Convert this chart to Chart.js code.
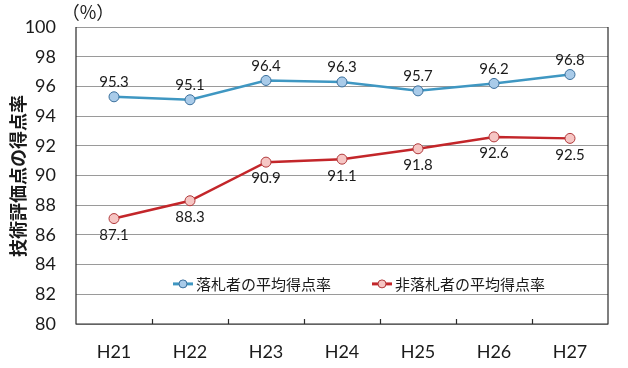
<!DOCTYPE html>
<html>
<head>
<meta charset="utf-8">
<script src="https://cdn.jsdelivr.net/npm/chart.js@4/dist/chart.umd.min.js"></script>
<style>
  html, body { margin: 0; padding: 0; background: #fff; }
  #wrap { width: 628px; height: 368px; position: relative; }
</style>
</head>
<body>
<div id="wrap"><canvas id="c" width="628" height="368"></canvas></div>
<script>
// data
const years = ["H21", "H22", "H23", "H24", "H25", "H26", "H27"];
const winnerRate = [95.3, 95.1, 96.4, 96.3, 95.7, 96.2, 96.8];
const loserRate = [87.1, 88.3, 90.9, 91.1, 91.8, 92.6, 92.5];
const seriesNames = ["落札者の平均得点率", "非落札者の平均得点率"];
const yTitle = "技術評価点の得点率";
const unitLabel = "（%）";

const JP = '"Noto Sans CJK JP", "Noto Sans", sans-serif';
const NUM = 'Lato, "Noto Sans", sans-serif';

const colors = {
  blueLine: "#3f97c2",
  blueFill: "#a9cbe9",
  blueEdge: "#3a6f9c",
  redLine: "#c3262a",
  redFill: "#f6c6c4",
  redEdge: "#b0393b",
  grid: "#9a9a9a",
  frame: "#2b2b2b",
  text: "#1a1a1a",
};

// labels above blue, below red
const dataLabels = {
  id: "dataLabels",
  afterDatasetsDraw(chart) {
    const { ctx } = chart;
    ctx.save();
    ctx.font = `15px ${NUM}`;
    ctx.fillStyle = colors.text;
    ctx.textAlign = "center";
    chart.data.datasets.forEach((ds, i) => {
      const meta = chart.getDatasetMeta(i);
      meta.data.forEach((pt, j) => {
        const v = ds.data[j].toFixed(1);
        if (i === 0) {
          ctx.textBaseline = "bottom";
          ctx.fillText(v, pt.x, pt.y - 7);
        } else {
          ctx.textBaseline = "top";
          ctx.fillText(v, pt.x, pt.y + 9);
        }
      });
    });
    ctx.restore();
  },
};

// frame, inner tick marks, legend, titles
const decorations = {
  id: "decorations",
  afterDraw(chart) {
    const { ctx, chartArea: a, scales } = chart;
    ctx.save();
    // frame
    ctx.strokeStyle = colors.frame;
    ctx.lineWidth = 1.2;
    ctx.beginPath();
    ctx.moveTo(a.left, a.top);
    ctx.lineTo(a.left, a.bottom);
    ctx.lineTo(a.right, a.bottom);
    ctx.lineTo(a.right, a.top);
    ctx.stroke();
    // ticks between categories
    const step = (a.right - a.left) / years.length;
    ctx.beginPath();
    for (let i = 1; i < years.length; i++) {
      const x = Math.round(a.left + step * i) + 0.5;
      ctx.moveTo(x, a.bottom);
      ctx.lineTo(x, a.bottom - 5);
    }
    ctx.stroke();

    // legend
    const ly = scales.y.getPixelForValue(82.7);
    const items = [
      { x: 173, line: colors.blueLine, fill: colors.blueFill, edge: colors.blueEdge, text: seriesNames[0] },
      { x: 372, line: colors.redLine, fill: colors.redFill, edge: colors.redEdge, text: seriesNames[1] },
    ];
    items.forEach((it) => {
      ctx.strokeStyle = it.line;
      ctx.lineWidth = 3;
      ctx.beginPath();
      ctx.moveTo(it.x, ly);
      ctx.lineTo(it.x + 20, ly);
      ctx.stroke();
      ctx.beginPath();
      ctx.arc(it.x + 10, ly, 4, 0, Math.PI * 2);
      ctx.fillStyle = it.fill;
      ctx.fill();
      ctx.lineWidth = 1;
      ctx.strokeStyle = it.edge;
      ctx.stroke();
      ctx.fillStyle = colors.text;
      ctx.font = `15px ${JP}`;
      ctx.textAlign = "left";
      ctx.textBaseline = "middle";
      ctx.fillText(it.text, it.x + 23, ly);
    });

    // unit
    ctx.font = `18px ${JP}`;
    ctx.fillStyle = colors.text;
    ctx.textAlign = "center";
    ctx.textBaseline = "middle";
    ctx.fillText(unitLabel, 88, 12);

    // vertical y title
    ctx.font = `bold 18px ${JP}`;
    ctx.save();
    ctx.translate(18, 176);
    ctx.rotate(-Math.PI / 2);
    ctx.textAlign = "center";
    ctx.fillText(yTitle, 0, 0);
    ctx.restore();
    ctx.restore();
  },
};

new Chart(document.getElementById("c"), {
  type: "line",
  data: {
    labels: years,
    datasets: [
      {
        label: seriesNames[0],
        data: winnerRate,
        borderColor: colors.blueLine,
        backgroundColor: colors.blueFill,
        pointBackgroundColor: colors.blueFill,
        pointBorderColor: colors.blueEdge,
        pointBorderWidth: 1,
        pointRadius: 5,
        borderWidth: 2.5,
        tension: 0,
      },
      {
        label: seriesNames[1],
        data: loserRate,
        borderColor: colors.redLine,
        backgroundColor: colors.redFill,
        pointBackgroundColor: colors.redFill,
        pointBorderColor: colors.redEdge,
        pointBorderWidth: 1,
        pointRadius: 5,
        borderWidth: 2.5,
        tension: 0,
      },
    ],
  },
  options: {
    responsive: false,
    animation: false,
    devicePixelRatio: 1,
    layout: { padding: { top: 27, right: 20, left: 0, bottom: 0 } },
    plugins: {
      legend: { display: false },
      tooltip: { enabled: false },
    },
    scales: {
      x: {
        offset: true,
        grid: { display: false },
        border: { display: false },
        ticks: {
          color: colors.text,
          font: { family: NUM, size: 18 },
          padding: 9,
        },
        afterFit: (s) => { s.height = 44; },
      },
      y: {
        min: 80,
        max: 100,
        ticks: {
          stepSize: 2,
          color: colors.text,
          font: { family: NUM, size: 18 },
          padding: 20,
        },
        grid: { color: colors.grid, lineWidth: 1, drawTicks: false },
        border: { display: false },
        afterFit: (s) => { s.width = 76; s.paddingTop = 0; s.paddingBottom = 0; },
      },
    },
  },
  plugins: [dataLabels, decorations],
});
</script>
</body>
</html>
